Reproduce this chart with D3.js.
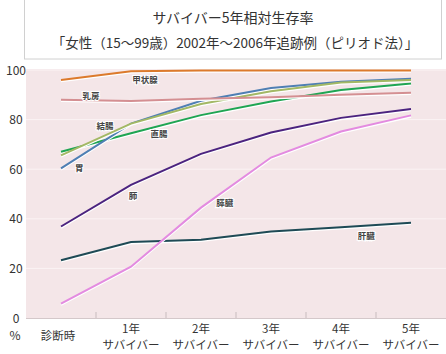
<!DOCTYPE html>
<html><head><meta charset="utf-8">
<script src="https://cdn.jsdelivr.net/npm/d3@7"></script>
<style>body{margin:0;background:#fff;}svg{display:block;font-family:"Noto Sans CJK JP","Noto Sans",sans-serif;}</style>
</head><body>
<script>
const categories = ["診断時", "1年\nサバイバー", "2年\nサバイバー", "3年\nサバイバー", "4年\nサバイバー", "5年\nサバイバー"];
const yTicks = [0, 20, 40, 60, 80, 100];
const seriesNames = ["甲状腺", "乳房", "結腸", "胃", "直腸", "肺", "膵臓", "肝臓"];
const thyroid = [96, 99.5, 99.8, 99.8, 99.8, 99.8];
const breast = [88, 87.5, 88.4, 89, 90, 90.8];
const colon = [65.6, 78.4, 86.3, 91.4, 95, 96];
const stomach = [60.3, 78.4, 87.6, 92.7, 95.3, 96.5];
const rectum = [67, 74.5, 81.8, 87.3, 91.9, 94.6];
const lung = [36.9, 53.7, 66.2, 74.8, 80.7, 84.3];
const pancreas = [5.8, 20.7, 44.5, 64.7, 75.2, 81.7];
const liver = [23.3, 30.6, 31.6, 34.9, 36.6, 38.4];
const colors = ["#dc7a2c", "#d48f92", "#a3b865", "#4f7fb3", "#1fa553", "#4b237f", "#e38be0", "#1e4a55"];
const labelAnchors = [[1.2, 96], [0.43, 89.5], [0.63, 77.5], [0.26, 60.5], [1.4, 74], [1.03, 49], [2.34, 46.5], [4.36, 33]];
const allSeries = [thyroid, breast, colon, stomach, rectum, lung, pancreas, liver];

const W = 446, H = 354;
const svg = d3.select("body").append("svg").attr("width", W).attr("height", H);

// title box
svg.append("rect").attr("x", 24.5).attr("y", -1).attr("width", 417).attr("height", 60)
  .attr("fill", "#fff").attr("stroke", "#d0d0d0");
svg.append("text").attr("x", 233).attr("y", 23).attr("text-anchor", "middle")
  .attr("font-size", 14).attr("fill", "#333").text("サバイバー5年相対生存率");
svg.append("text").attr("x", 235).attr("y", 48).attr("text-anchor", "middle")
  .attr("font-size", 13.5).attr("fill", "#333").text("「女性（15〜99歳）2002年〜2006年追跡例（ピリオド法）」");

const pL = 26, pR = 446, pT = 69, pB = 318;
const x = d3.scaleBand().domain(categories).range([pL, pR]);
const y = d3.scaleLinear().domain([0, 100]).range([pB, pT + 1]);

svg.append("rect").attr("x", pL).attr("y", pT).attr("width", pR - pL).attr("height", pB - pT)
  .attr("fill", "#f4e6e8");

svg.append("g").selectAll("line").data(yTicks.slice(1)).join("line")
  .attr("x1", pL).attr("x2", pR).attr("y1", d => y(d)).attr("y2", d => y(d))
  .attr("stroke", "#fbf3f4").attr("stroke-width", 1);

// bottom axis line and ticks
svg.append("line").attr("x1", pL).attr("x2", pR).attr("y1", pB + 0.5).attr("y2", pB + 0.5)
  .attr("stroke", "#d4c8ca");
svg.append("g").selectAll("line").data(categories.slice(1)).join("line")
  .attr("x1", d => x(d)).attr("x2", d => x(d)).attr("y1", pB - 6).attr("y2", pB)
  .attr("stroke", "#c8bcbe");

// y tick labels
svg.append("g").selectAll("text").data(yTicks).join("text")
  .attr("x", 16).attr("y", d => y(d) + 4.5).attr("text-anchor", "middle")
  .attr("font-size", 12).attr("fill", "#333").text(d => d);

// x labels
const xl = svg.append("g").selectAll("text").data(categories).join("text")
  .attr("text-anchor", "middle").attr("font-size", 11.5).attr("fill", "#333");
xl.each(function(d, i) {
  const parts = d.split("\n");
  const t = d3.select(this);
  const cx = x(d) + x.bandwidth() / 2 + (i === 0 ? -3 : 0);
  if (parts.length === 1) {
    t.append("tspan").attr("x", cx).attr("y", 340).text(parts[0]);
  } else {
    t.append("tspan").attr("x", cx).attr("y", 333).text(parts[0]);
    t.append("tspan").attr("x", cx).attr("y", 349).text(parts[1]);
  }
});
svg.append("text").attr("x", 15).attr("y", 340).attr("text-anchor", "middle")
  .attr("font-size", 12).attr("fill", "#333").text("%");

const line = d3.line().x((d, i) => x(categories[i]) + x.bandwidth() / 2).y(d => y(d));

const g = svg.append("g");
allSeries.slice().reverse().forEach((s, ri) => {
  const idx = allSeries.length - 1 - ri;
  g.append("path").attr("d", line(s)).attr("fill", "none").attr("stroke", "#fff")
    .attr("stroke-width", 2).attr("transform", "translate(0,1.3)");
  g.append("path").attr("d", line(s)).attr("fill", "none").attr("stroke", colors[idx])
    .attr("stroke-width", 2);
});

// series labels
const lx = d3.scaleLinear().domain([0, 5]).range([x(categories[0]) + x.bandwidth() / 2, x(categories[5]) + x.bandwidth() / 2]);
svg.append("g").selectAll("text").data(seriesNames).join("text")
  .attr("x", (d, i) => lx(labelAnchors[i][0]))
  .attr("y", (d, i) => y(labelAnchors[i][1]) + 3)
  .attr("text-anchor", "middle").attr("font-size", 8.5).attr("font-weight", "bold")
  .attr("fill", "#444").attr("stroke", "#fff").attr("stroke-width", 2).attr("paint-order", "stroke")
  .text(d => d);
</script>
</body></html>
